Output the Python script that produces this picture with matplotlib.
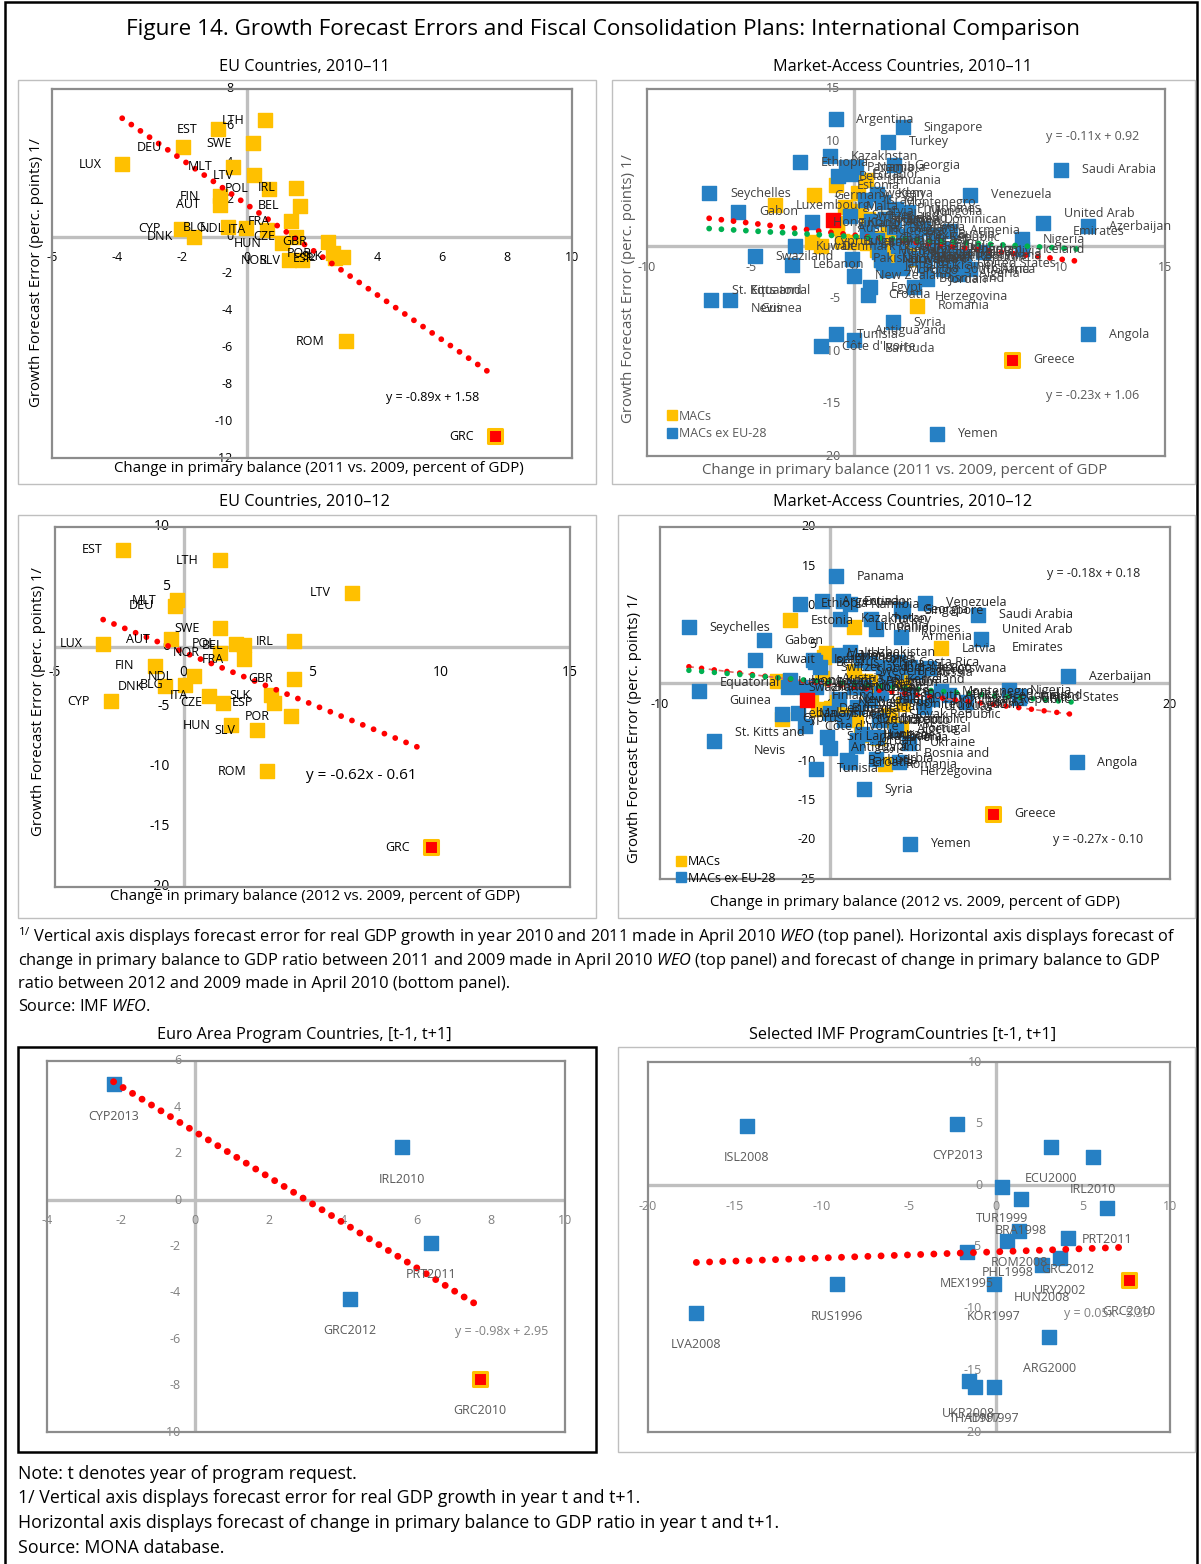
import matplotlib
matplotlib.use("Agg")
import matplotlib.pyplot as plt
from matplotlib.patches import Rectangle
from matplotlib.lines import Line2D
import numpy as np

plt.rcParams['font.family'] = ['Open Sans', 'DejaVu Sans']
plt.rcParams['mathtext.fontset'] = 'custom'
plt.rcParams['mathtext.rm'] = 'Open Sans'
plt.rcParams['mathtext.it'] = 'Open Sans:italic'

# ------------------------------------------------------------------ data
# EU countries 2010-11 (also the yellow "MACs" EU members in market-access 2010-11)
eu11_codes = ["LUX", "DEU", "EST", "LTH", "SWE", "MLT", "LTV", "POL", "IRL", "FIN", "AUT", "BEL", "FRA",
              "CYP", "DNK", "BLG", "NDL", "ITA", "CZE", "HUN", "GBR", "NOR", "SLV", "POR", "ESP", "SLK", "ROM"]
eu11_x = [-3.84, -1.96, -0.88, 0.56, 0.18, -0.43, 0.23, 0.68, 1.51, -0.82, -0.82, 1.64, 1.34,
          -2.02, -1.62, -0.6, -0.03, 0.6, 1.5, 1.08, 2.5, 1.28, 1.68, 2.64, 2.7, 2.96, 3.04]
eu11_y = [3.91, 4.85, 5.82, 6.31, 5.05, 3.78, 3.33, 2.58, 2.64, 2.18, 1.73, 1.67, 0.82,
          0.42, 0.0, 0.5, 0.45, 0.36, 0.0, -0.36, -0.27, -1.27, -1.27, -0.9, -1.18, -1.09, -5.67]
grc11_x = [7.62]
grc11_y = [-10.82]
eu11_trend_label = "y = -0.89x + 1.58"
eu11_trend_line = (-1.22, 1.73)      # dotted line as drawn in the picture

# EU countries 2010-12
eu12_codes = ["EST", "LTH", "LTV", "MLT", "DEU", "SWE", "LUX", "AUT", "IRL", "POL", "BEL", "NOR", "FRA",
              "FIN", "NDL", "BLG", "DNK", "GBR", "ITA", "CZE", "SLK", "ESP", "POR", "CYP", "HUN", "SLV", "ROM"]
eu12_x = [-2.34, 1.39, 6.53, -0.26, -0.33, 1.42, -3.13, -0.5, 4.29, 2.04, 2.33, 1.42, 2.35,
          -1.12, 0.39, 0.03, -0.73, 4.29, 0.99, 1.51, 3.4, 3.52, 4.15, -2.84, 1.85, 2.83, 3.23]
eu12_y = [8.11, 7.22, 4.53, 3.89, 3.42, 1.58, 0.28, 0.64, 0.47, 0.28, 0.14, -0.47, -1.03,
          -1.58, -2.42, -3.14, -3.25, -2.64, -4.08, -4.64, -4.03, -4.64, -5.75, -4.53, -6.53, -6.94, -10.36]
grc12_x = [9.6]
grc12_y = [-16.67]
eu12_trend_label = "y = -0.62x - 0.61"
eu12_trend_line = (-0.87, -0.44)

full_names = {"LUX": "Luxembourg", "DEU": "Germany", "EST": "Estonia", "LTH": "Lithuania", "SWE": "Sweden",
              "MLT": "Malta", "LTV": "Latvia", "POL": "Poland", "IRL": "Ireland", "FIN": "Finland",
              "AUT": "Austria", "BEL": "Belgium", "FRA": "France", "CYP": "Cyprus", "DNK": "Denmark",
              "BLG": "Bulgaria", "NDL": "Netherlands", "ITA": "Italy", "CZE": "Czech Republic",
              "HUN": "Hungary", "GBR": "United Kingdom", "NOR": "Norway", "SLV": "Slovenia",
              "POR": "Portugal", "ESP": "Spain", "SLK": "Slovak Republic", "ROM": "Romania"}

# Market-access countries 2010-11, non-EU (blue)
mac11_names = ["Argentina", "Singapore", "Turkey", "Kazakhstan", "Ethiopia", "Panama", "Namibia", "Georgia",
               "Saudi Arabia", "Belarus", "Ecuador", "Seychelles", "Venezuela", "Kenya", "Israel", "Montenegro",
               "Philippines", "Mongolia", "Gabon", "Hong Kong SAR", "Switzerland", "Thailand", "Korea", "Peru",
               "Malaysia", "Dominican\nRepublic", "Armenia", "Russia", "Indonesia", "Mexico", "Brazil", "China",
               "FYR", "India", "Albania", "United Arab\nEmirates", "Azerbaijan", "Nigeria", "Iceland", "Kuwait",
               "Vietnam", "Colombia", "Uruguay", "Canada", "Japan", "Botswana", "Bolivia", "Pakistan", "Jamaica",
               "Ukraine", "Serbia", "Morocco", "South Africa", "United States", "Algeria", "Ghana", "Jordan",
               "Swaziland", "Lebanon", "New Zealand", "Egypt", "Croatia", "Bosnia and\nHerzegovina", "Syria",
               "Tunisia", "Antigua and\nBarbuda", "Côte d'Ivoire", "Angola", "Yemen", "St. Kitts and\nNevis",
               "Equatorial\nGuinea", "Norway"]
mac11_x = [-0.9, 2.35, 1.65, -1.15, -2.6, -0.4, 0.1, 1.9, 10.0, -0.8, -0.15, -7.0, 5.6, 1.1, 0.5, 1.4,
           2.0, 2.6, -5.6, -2.05, -0.2, 0.8, 1.5, 2.8, 1.9, 3.3, 4.6, 4.0, 0.6, 2.4, 3.0, 1.1,
           3.8, 2.1, 4.6, 9.1, 11.3, 8.1, 8.1, -2.85, 1.2, 3.5, 4.2, 2.3, 3.0, 5.3, 6.2, -0.1, 1.4,
           3.4, 2.3, 1.6, 4.3, 4.9, 5.0, 5.6, 3.5, -4.8, -3.0, 0.0, 0.75, 0.65, 2.9, 1.87,
           -0.88, 0.0, -1.6, 11.3, 4.0, -6.9, -6.0, 1.28]
mac11_y = [12.1, 11.35, 9.95, 8.6, 8.0, 7.55, 7.55, 7.75, 7.3, 6.7, 6.85, 5.05, 4.9, 5.0, 4.4, 4.2,
           3.6, 3.3, 3.3, 2.3, 2.9, 2.4, 2.6, 2.0, 1.8, 1.7, 1.5, 1.1, 1.5, 1.0, 0.6, 0.6,
           0.2, 0.0, -0.3, 2.25, 1.9, 0.65, -0.3, 0.0, -0.5, -0.6, -0.8, -0.9, -1.1, -0.9, -0.5, -1.2, -1.6,
           -1.8, -2.1, -2.3, -2.2, -1.6, -2.6, -2.2, -3.1, -0.95, -1.75, -2.8, -3.9, -4.6, -3.9, -7.25,
           -8.4, -8.9, -9.55, -8.4, -17.9, -5.1, -5.1, -1.27]
mac11_hl_x = [-1.0]
mac11_hl_y = [2.5]
mac11_trend_all = (-0.23, 1.06)
mac11_trend_ex = (-0.11, 0.92)

# Market-access countries 2010-12, non-EU (blue)
mac12_names = ["Panama", "Seychelles", "Gabon", "Kuwait", "Equatorial\nGuinea", "St. Kitts and\nNevis",
               "Ethiopia", "Argentina", "Ecuador", "Namibia", "Kazakhstan", "Turkey", "Philippines", "Georgia",
               "Singapore", "Armenia", "Venezuela", "Saudi Arabia", "United Arab\nEmirates", "Azerbaijan",
               "Angola", "Yemen", "Syria", "Tunisia", "Botswana", "Costa Rica", "Uzbekistan", "Mongolia",
               "Belarus", "Russia", "Swaziland", "Lebanon", "United States", "Iceland", "Ukraine", "Jamaica",
               "Antigua and", "Egypt", "Serbia", "Bosnia and\nHerzegovina", "Croatia", "Norway", "Korea", "China",
               "India", "Brazil", "Mexico", "Peru", "Israel", "Switzerland", "Hong Kong SAR", "Pakistan",
               "Thailand", "Malaysia", "Indonesia", "Colombia", "Vietnam", "Chile", "Morocco", "Sri Lanka",
               "Jordan", "Albania", "Algeria", "Barbuda", "Nigeria", "Dominican Republic", "FYR Macedonia",
               "Uruguay", "Bolivia", "Kenya", "Canada", "Japan", "South Africa", "New Zealand", "Côte d'Ivoire",
               "Montenegro"]
mac12_x = [0.33, -8.3, -3.9, -4.4, -7.7, -6.8, -1.75, -0.5, 0.75, 1.2, 0.6, 2.4, 2.7, 4.2,
           4.3, 4.2, 5.57, 8.7, 8.9, 14.0, 14.5, 4.7, 2.0, -0.8, 5.8, 4.0, 1.2, 0.5,
           -0.9, 5.0, -2.5, -2.85, 11.1, 11.2, 4.65, 1.9, 0.0, 1.5, 2.7, 4.05, 1.2, 1.42, 1.8, 2.35,
           3.1, 3.9, 4.7, 5.1, -1.0, -0.6, -2.35, -1.6, -0.8, -1.9, 0.0, 0.8, 1.6, 2.35, 2.9, -0.2,
           1.6, 2.75, 3.9, 1.0, 10.5, 6.0, 7.0, 5.5, 8.0, 3.3, 2.0, 3.0, 4.5, 0.5, -1.5, 6.5]
mac12_y = [13.7, 7.2, 5.5, 3.0, -1.0, -7.4, 10.2, 10.5, 10.5, 10.1, 8.3, 8.2, 7.0, 9.5,
           9.3, 6.0, 10.3, 8.8, 5.7, 0.9, -10.1, -20.5, -13.55, -10.9, 1.95, 2.7, 4.0, 3.6,
           2.7, 1.4, -0.5, -3.9, -1.8, -1.6, -7.6, -6.5, -8.2, -8.0, -9.6, -10.1, -10.1, -0.47, 3.0, 2.6,
           2.1, 1.5, 2.1, 1.7, 3.0, 2.1, 0.4, -0.4, -0.4, -3.8, -3.8, -4.7, -3.0, -2.1, -4.7, -6.8,
           -7.2, -6.8, -5.9, -9.8, -0.9, -2.0, -1.5, -3.0, -2.4, 0.5, -0.5, -1.2, -1.5, -2.0, -5.5, -1.0]
mac12_hl_x = [-1.35]
mac12_hl_y = [-2.1]
mac12_trend_all = (-0.27, -0.10)
mac12_trend_ex = (-0.18, 0.18)

# Euro area program countries
ea_names = ["CYP2013", "IRL2010", "PRT2011", "GRC2012"]
ea_x = [-2.2, 5.59, 6.39, 4.19]
ea_y = [4.99, 2.27, -1.85, -4.26]
ea_grc_x = [7.7]
ea_grc_y = [-7.7]
ea_trend = (-0.98, 2.95)

# Selected IMF program countries
imf_names = ["ISL2008", "CYP2013", "ECU2000", "IRL2010", "TUR1999", "BRA1998", "PRT2011", "GRC2012",
             "ROM2008", "PHL1998", "MEX1995", "URY2002", "HUN2008", "KOR1997", "RUS1996", "LVA2008",
             "ARG2000", "UKR2008", "THA1997", "IDN1997"]
imf_x = [-14.33, -2.22, 3.14, 5.56, 0.32, 1.45, 6.36, 4.14, 1.35, 0.65, -1.68, 3.7, 2.66, -0.14, -9.14,
         -17.22, 3.07, -1.58, -1.22, -0.14]
imf_y = [4.83, 4.99, 3.14, 2.28, -0.1, -1.1, -1.81, -4.24, -3.7, -4.49, -5.39, -5.93, -6.47, -8.03, -8.03,
         -10.34, -12.29, -15.89, -16.35, -16.35]
imf_grc_x = [7.63]
imf_grc_y = [-7.68]
imf_trend = (0.05, -5.39)

# ------------------------------------------------------------------ styles
YEL = '#FFC000'
BLU = '#2680C4'
RED = '#FF0000'
GRN = '#00B050'
FRAME = '#8C8C8C'
ZERO = '#BFBFBF'
MS = 112
PT_FS = 9.0

W, H = 1201, 1564
fig = plt.figure(figsize=(W / 100, H / 100), dpi=100)


def fx(x):
    return x / W


def fy(y):
    return 1 - y / H


def box(x0, y0, x1, y1, color, lw):
    fig.add_artist(Rectangle((fx(x0), fy(y1)), fx(x1) - fx(x0), fy(y0) - fy(y1),
                             transform=fig.transFigure, fill=False, edgecolor=color, linewidth=lw))


def ftext(x, y, s, **kw):
    fig.text(fx(x), fy(y), s, **kw)


def make_axes(px, xlim, ylim, xticks, yticks, tcol, tfs=9.0, xoff=-15, yoff=-10):
    x0, y0, x1, y1 = px
    ax = fig.add_axes([fx(x0), fy(y1), fx(x1) - fx(x0), fy(y0) - fy(y1)])
    ax.set_xlim(*xlim)
    ax.set_ylim(*ylim)
    ax.set_xticks([])
    ax.set_yticks([])
    ax.patch.set_alpha(0)
    for s in ax.spines.values():
        s.set_color(FRAME)
        s.set_linewidth(1.6)
    ax.axhline(0, color=ZERO, lw=2.4, zorder=1)
    ax.axvline(0, color=ZERO, lw=2.4, zorder=1)
    for t in xticks:
        ax.annotate(str(t), (t, 0), xytext=(0, xoff), textcoords='offset points', ha='center',
                    va='center', fontsize=tfs, color=tcol, zorder=2, annotation_clip=False)
    for t in yticks:
        ax.annotate(str(t), (0, t), xytext=(yoff, 0), textcoords='offset points', ha='right',
                    va='center', fontsize=tfs, color=tcol, zorder=2, annotation_clip=False)
    return ax


def trend(ax, xs, coef, color, lw, gap, z=5):
    xx = np.array([min(xs), max(xs)])
    ax.plot(xx, coef[0] * xx + coef[1], color=color, lw=lw, linestyle=(0, (0.001, gap)),
            dash_capstyle='round', solid_capstyle='round', zorder=z)


def labels(ax, names, xs, ys, dx, dy, ha, fs, col):
    for n, x, y in zip(names, xs, ys):
        ax.annotate(n, (x, y), xytext=(dx, dy), textcoords='offset points', ha=ha, va='center',
                    multialignment='center', fontsize=fs, color=col, zorder=6, linespacing=1.5)


def grc(ax, xs, ys):
    ax.scatter(xs, ys, s=MS * 0.95, marker='s', facecolor=RED, edgecolor=YEL, linewidth=2.2, zorder=4)


# ------------------------------------------------------------------ frame & titles
box(5, 2, 1197, 1600, 'black', 1.8)
ftext(603, 30, "Figure 14. Growth Forecast Errors and Fiscal Consolidation Plans: International Comparison",
      ha='center', va='center', fontsize=16.2, color='black')

for (x0, y0, x1, y1) in [(18, 80, 596, 484), (612, 80, 1195, 484), (18, 515, 596, 918), (618, 515, 1195, 918),
                         (618, 1047, 1195, 1452)]:
    box(x0, y0, x1, y1, '#BFBFBF', 1.0)
box(18, 1047, 596, 1452, 'black', 1.8)

SUB = 11.7
ftext(304, 67, "EU Countries, 2010–11", ha='center', va='center', fontsize=SUB)
ftext(903, 67, "Market-Access Countries, 2010–11", ha='center', va='center', fontsize=SUB)
ftext(304, 502, "EU Countries, 2010–12", ha='center', va='center', fontsize=SUB)
ftext(903, 502, "Market-Access Countries, 2010–12", ha='center', va='center', fontsize=SUB)
ftext(304, 1035, "Euro Area Program Countries, [t-1, t+1]", ha='center', va='center', fontsize=SUB)
ftext(903, 1035, "Selected IMF ProgramCountries [t-1, t+1]", ha='center', va='center', fontsize=SUB)

YL = "Growth Forecast Error (perc. points) 1/"
AX_FS = 10.8

# ------------------------------------------------------------------ panel 1
ax1 = make_axes((52, 89, 572, 458), (-6, 10), (-12, 8), list(range(-6, 11, 2)), list(range(-12, 9, 2)), 'black')
ax1.scatter(eu11_x, eu11_y, s=MS, marker='s', color=YEL, zorder=3)
grc(ax1, grc11_x, grc11_y)
trend(ax1, eu11_x + [7.42], eu11_trend_line, RED, 4.2, 1.9)
labels(ax1, eu11_codes + ["GRC"], eu11_x + grc11_x, eu11_y + grc11_y, -15, 0, 'right', PT_FS, 'black')
ax1.text(5.71, -8.73, eu11_trend_label, ha='center', va='center', fontsize=9, zorder=6)
ftext(319, 468, "Change in primary balance (2011 vs. 2009, percent of GDP)", ha='center', va='center',
      fontsize=AX_FS)
ftext(37, 273, YL, ha='center', va='center', rotation=90, fontsize=AX_FS)

# ------------------------------------------------------------------ panel 2
ax2 = make_axes((647, 89, 1165, 456), (-10, 15), (-20, 15), list(range(-10, 16, 5)), list(range(-20, 16, 5)),
                '#595959')
ax2.scatter(eu11_x + grc11_x, eu11_y + grc11_y, s=MS, marker='s', color=YEL, zorder=3)
ax2.scatter(mac11_x, mac11_y, s=MS, marker='s', color=BLU, zorder=3)
ax2.scatter(mac11_hl_x, mac11_hl_y, s=MS, marker='s', color=RED, zorder=3)
grc(ax2, grc11_x, grc11_y)
all11_x = eu11_x + grc11_x + mac11_x
trend(ax2, [-7.0, 11.07], mac11_trend_all, RED, 4.2, 2.1)
trend(ax2, [-7.0, 11.07], mac11_trend_ex, GRN, 4.2, 2.1)
eu_full11 = [full_names[c] for c in eu11_codes]
labels(ax2, eu_full11 + ["Greece"] + mac11_names, eu11_x + grc11_x + mac11_x, eu11_y + grc11_y + mac11_y,
       15, 0, 'left', PT_FS, '#404040')
ax2.text(11.5, 10.47, "y = -0.11x + 0.92", ha='center', va='center', fontsize=9, color='#595959', zorder=6)
ax2.text(11.5, -14.27, "y = -0.23x + 1.06", ha='center', va='center', fontsize=9, color='#595959', zorder=6)
h1 = Line2D([], [], marker='s', color=YEL, linestyle='none', markersize=7)
h2 = Line2D([], [], marker='s', color=BLU, linestyle='none', markersize=7)
lg = ax2.legend([h1, h2], ["MACs", "MACs ex EU-28"], loc='lower left', frameon=False, fontsize=9,
                handletextpad=0.0, borderaxespad=0.3, labelspacing=0.35, handlelength=1.0,
                bbox_to_anchor=(0.02, 0.02))
for t in lg.get_texts():
    t.set_color('#595959')
ftext(905, 470, "Change in primary balance (2011 vs. 2009, percent of GDP", ha='center', va='center',
      fontsize=AX_FS, color='#595959')
ftext(629, 289, YL, ha='center', va='center', rotation=90, fontsize=AX_FS, color='#595959')

# ------------------------------------------------------------------ panel 3
ax3 = make_axes((55, 527, 570, 887), (-5, 15), (-20, 10), list(range(-5, 16, 5)), list(range(-20, 11, 5)),
                'black', tfs=10, xoff=-18)
ax3.scatter(eu12_x, eu12_y, s=MS, marker='s', color=YEL, zorder=3)
grc(ax3, grc12_x, grc12_y)
trend(ax3, eu12_x + [9.46], eu12_trend_line, RED, 4.2, 2.0)
labels(ax3, eu12_codes + ["GRC"], eu12_x + grc12_x, eu12_y + grc12_y, -15, 0, 'right', PT_FS, 'black')
ax3.text(6.88, -10.7, eu12_trend_label, ha='center', va='center', fontsize=11, zorder=6)
ftext(315, 897, "Change in primary balance (2012 vs. 2009, percent of GDP)", ha='center', va='center',
      fontsize=AX_FS)
ftext(38, 702, YL, ha='center', va='center', rotation=90, fontsize=AX_FS)

# ------------------------------------------------------------------ panel 4
ax4 = make_axes((660, 527, 1170, 879), (-10, 20), (-25, 20), list(range(-10, 21, 10)), list(range(-25, 21, 5)),
                'black')
ax4.scatter(eu12_x + grc12_x, eu12_y + grc12_y, s=MS, marker='s', color=YEL, zorder=3)
ax4.scatter(mac12_x, mac12_y, s=MS, marker='s', color=BLU, zorder=3)
ax4.scatter(mac12_hl_x, mac12_hl_y, s=MS, marker='s', color=RED, zorder=3)
grc(ax4, grc12_x, grc12_y)
x4 = [-8.3, 14.45]
xx4 = np.array(x4)
ax4.plot(xx4, mac12_trend_all[0] * xx4 + mac12_trend_all[1], color='#E06666', lw=1.2,
         linestyle=(0, (3, 3)), zorder=4)
trend(ax4, x4, mac12_trend_all, RED, 4.0, 2.3)
trend(ax4, x4, mac12_trend_ex, GRN, 4.0, 2.3)
eu_full12 = [full_names[c] for c in eu12_codes]
labels(ax4, eu_full12 + ["Greece"] + mac12_names, eu12_x + grc12_x + mac12_x, eu12_y + grc12_y + mac12_y,
       15, 0, 'left', PT_FS, '#262626')
ax4.text(15.5, 14.03, "y = -0.18x + 0.18", ha='center', va='center', fontsize=9, color='#262626', zorder=6)
ax4.text(15.77, -19.9, "y = -0.27x - 0.10", ha='center', va='center', fontsize=9, color='#262626', zorder=6)
lg4 = ax4.legend([h1, h2], ["MACs", "MACs ex EU-28"], loc='lower left', frameon=False, fontsize=9,
                 handletextpad=0.0, borderaxespad=0.0, labelspacing=0.25, handlelength=1.0,
                 bbox_to_anchor=(0.02, -0.03))
ftext(915, 903, "Change in primary balance (2012 vs. 2009, percent of GDP)", ha='center', va='center',
      fontsize=AX_FS)
ftext(635, 729, YL, ha='center', va='center', rotation=90, fontsize=AX_FS)

# ------------------------------------------------------------------ footnote (top)
fs_note = 11.8
ftext(18, 937, r"$^{1/}$ Vertical axis displays forecast error for real GDP growth in year 2010 and 2011 made in April 2010 "
      r"$\it{WEO}$ (top panel). Horizontal axis displays forecast of", ha='left', va='center', fontsize=fs_note)
ftext(18, 961, r"change in primary balance to GDP ratio between 2011 and 2009 made in April 2010 $\it{WEO}$ "
      r"(top panel) and forecast of change in primary balance to GDP", ha='left', va='center', fontsize=fs_note)
ftext(18, 984, "ratio between 2012 and 2009 made in April 2010 (bottom panel).", ha='left', va='center',
      fontsize=fs_note)
ftext(18, 1007, r"Source: IMF $\it{WEO}$.", ha='left', va='center', fontsize=fs_note)

# ------------------------------------------------------------------ panel 5
ax5 = make_axes((47, 1061, 565, 1432), (-4, 10), (-10, 6), list(range(-4, 11, 2)), list(range(-10, 7, 2)),
                '#808080')
ax5.scatter(ea_x, ea_y, s=MS, marker='s', color=BLU, zorder=3)
grc(ax5, ea_grc_x, ea_grc_y)
trend(ax5, ea_x + ea_grc_x, ea_trend, RED, 5.0, 1.6)
labels(ax5, ea_names + ["GRC2010"], ea_x + ea_grc_x, ea_y + ea_grc_y, 0, -23, 'center', PT_FS, '#595959')
ax5.text(8.3, -5.67, "y = -0.98x + 2.95", ha='center', va='center', fontsize=9, color='#808080', zorder=6)

# ------------------------------------------------------------------ panel 6
ax6 = make_axes((648, 1062, 1170, 1432), (-20, 10), (-20, 10), list(range(-20, 11, 5)), list(range(-20, 11, 5)),
                '#808080')
ax6.scatter(imf_x, imf_y, s=MS, marker='s', color=BLU, zorder=3)
grc(ax6, imf_grc_x, imf_grc_y)
trend(ax6, imf_x + imf_grc_x, imf_trend, RED, 5.0, 1.9)
labels(ax6, imf_names + ["GRC2010"], imf_x + imf_grc_x, imf_y + imf_grc_y, 0, -23, 'center', PT_FS, '#595959')
ax6.text(6.36, -10.4, "y = 0.05x - 5.39", ha='center', va='center', fontsize=9, color='#808080', zorder=6)

# ------------------------------------------------------------------ bottom notes
BN = 12.8
ftext(18, 1474, "Note: t denotes year of program request.", ha='left', va='center', fontsize=BN)
ftext(18, 1498, "1/ Vertical axis displays forecast error for real GDP growth in year t and t+1.", ha='left',
      va='center', fontsize=BN)
ftext(18, 1523, "Horizontal axis displays forecast of change in primary balance to GDP ratio in year t and t+1.",
      ha='left', va='center', fontsize=BN)
ftext(18, 1548, "Source: MONA database.", ha='left', va='center', fontsize=BN)

fig.savefig("out.png", dpi=100)
